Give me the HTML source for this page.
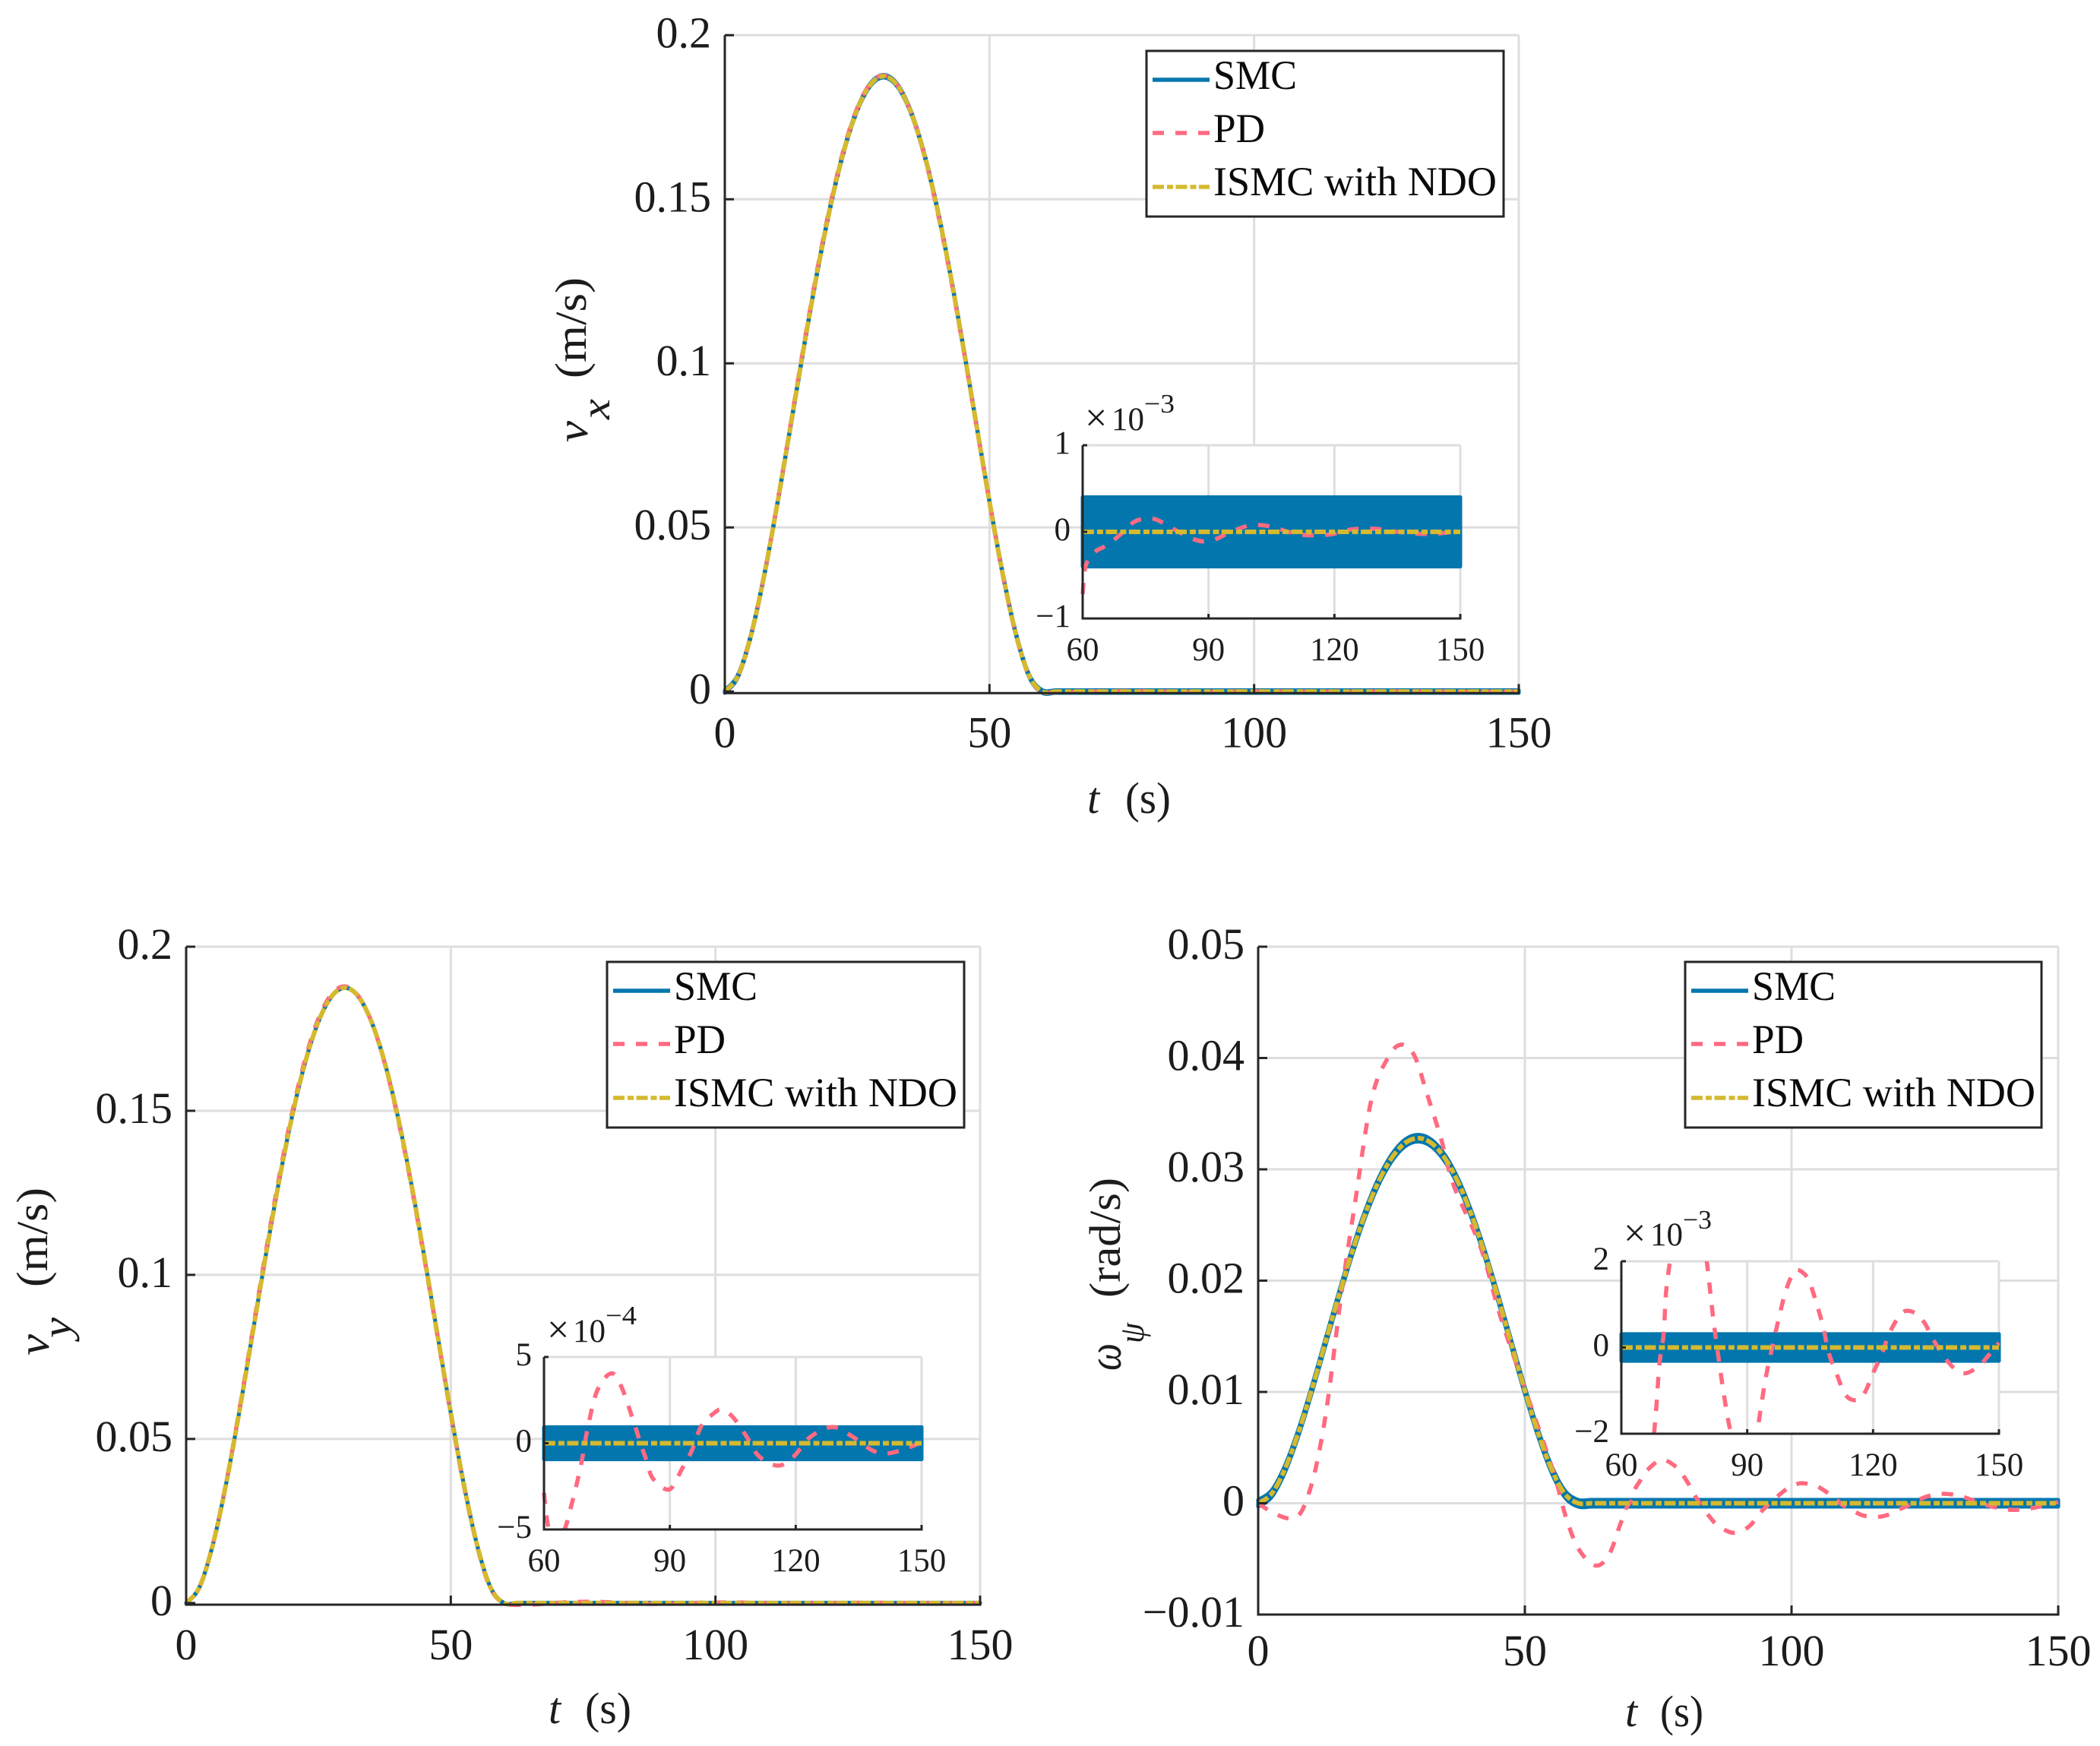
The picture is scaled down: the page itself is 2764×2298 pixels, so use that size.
<!DOCTYPE html>
<html lang="en">
<head>
<meta charset="utf-8">
<title>Velocity tracking comparison</title>
<style>
html,body{margin:0;padding:0;background:#fff}
svg{display:block}
text{font-family:"Liberation Serif",serif;fill:#1c1c1c}
.leg{font-size:54px;fill:#0a0a0a}
.lab{font-size:58px}
.it{font-style:italic}
.inlab{font-size:43px}
.times{font-size:52px}
.sup{font-size:35px}
</style>
</head>
<body>
<svg xmlns="http://www.w3.org/2000/svg" width="2764" height="2298" viewBox="0 0 2764 2298">
<rect width="2764" height="2298" fill="#fff"/>
<defs>
<clipPath id="clip-vx"><rect x="1420" y="586" width="507" height="228"/></clipPath>
<clipPath id="clip-vy"><rect x="711" y="1786" width="507" height="227"/></clipPath>
<clipPath id="clip-wz"><rect x="2129" y="1660" width="507" height="227"/></clipPath>
</defs>

<!-- Top chart: v_x -->
<g id="vx-main"></g>
<g>
<text class="lab it" transform="translate(773,582) rotate(-90)" textLength="28" lengthAdjust="spacingAndGlyphs">v</text>
<text class="lab it" transform="translate(802,552) rotate(-90)" textLength="27" lengthAdjust="spacingAndGlyphs" style="font-size:54px">x</text>
<text class="lab" transform="translate(771,498) rotate(-90)" textLength="133" lengthAdjust="spacingAndGlyphs">(m/s)</text>
</g>
<g>
<text class="lab it" x="1431" y="1070">t</text>
<text class="lab" x="1481" y="1070" textLength="60" lengthAdjust="spacingAndGlyphs">(s)</text>
</g>
<g transform="translate(1509,67)">
<rect width="470" height="218" fill="#fff" stroke="#262626" stroke-width="3"/>
<line x1="8" x2="83" y1="38" y2="38" stroke="#0376ae" stroke-width="5.5"/>
<text class="leg" x="88" y="50" textLength="110" lengthAdjust="spacingAndGlyphs">SMC</text>
<line x1="8" x2="83" y1="108" y2="108" stroke="#ff6a80" stroke-width="5.5" stroke-dasharray="15 15"/>
<text class="leg" x="88" y="120" textLength="68" lengthAdjust="spacingAndGlyphs">PD</text>
<line x1="8" x2="83" y1="179" y2="179" stroke="#d5b92e" stroke-width="5.5" stroke-dasharray="15 4 8 3.5"/>
<text class="leg" x="88" y="190" textLength="373" lengthAdjust="spacingAndGlyphs">ISMC with NDO</text>
</g>
<g id="vx-inset"></g>
<g>
<text class="times" x="1428" y="567">×</text>
<text class="inlab" x="1463" y="566">10</text>
<text class="sup" x="1506" y="543" textLength="40" lengthAdjust="spacingAndGlyphs">−3</text>
</g>

<!-- Bottom left chart: v_y -->
<g id="vy-main"></g>
<g>
<text class="lab it" transform="translate(64,1784) rotate(-90)" textLength="28" lengthAdjust="spacingAndGlyphs">v</text>
<text class="lab it" transform="translate(93,1761) rotate(-90)" textLength="27" lengthAdjust="spacingAndGlyphs" style="font-size:54px">y</text>
<text class="lab" transform="translate(62,1694) rotate(-90)" textLength="131" lengthAdjust="spacingAndGlyphs">(m/s)</text>
</g>
<g>
<text class="lab it" x="722" y="2268">t</text>
<text class="lab" x="770" y="2268" textLength="61" lengthAdjust="spacingAndGlyphs">(s)</text>
</g>
<g transform="translate(799,1266)">
<rect width="470" height="218" fill="#fff" stroke="#262626" stroke-width="3"/>
<line x1="8" x2="83" y1="38" y2="38" stroke="#0376ae" stroke-width="5.5"/>
<text class="leg" x="88" y="50" textLength="110" lengthAdjust="spacingAndGlyphs">SMC</text>
<line x1="8" x2="83" y1="108" y2="108" stroke="#ff6a80" stroke-width="5.5" stroke-dasharray="15 15"/>
<text class="leg" x="88" y="120" textLength="68" lengthAdjust="spacingAndGlyphs">PD</text>
<line x1="8" x2="83" y1="179" y2="179" stroke="#d5b92e" stroke-width="5.5" stroke-dasharray="15 4 8 3.5"/>
<text class="leg" x="88" y="190" textLength="373" lengthAdjust="spacingAndGlyphs">ISMC with NDO</text>
</g>
<g id="vy-inset"></g>
<g>
<text class="times" x="720" y="1767">×</text>
<text class="inlab" x="754" y="1766">10</text>
<text class="sup" x="797" y="1743" textLength="41" lengthAdjust="spacingAndGlyphs">−4</text>
</g>

<!-- Bottom right chart: omega_psi -->
<g id="wz-main"></g>
<g>
<text class="lab it" transform="translate(1475,1804) rotate(-90)" textLength="36" lengthAdjust="spacingAndGlyphs" style="font-size:62px">ω</text>
<text class="lab it" transform="translate(1505,1768) rotate(-90)" textLength="27" lengthAdjust="spacingAndGlyphs" style="font-size:46px">ψ</text>
<text class="lab" transform="translate(1474,1708) rotate(-90)" textLength="158" lengthAdjust="spacingAndGlyphs">(rad/s)</text>
</g>
<g>
<text class="lab it" x="2139" y="2272">t</text>
<text class="lab" x="2185" y="2272" textLength="57" lengthAdjust="spacingAndGlyphs">(s)</text>
</g>
<g transform="translate(2218,1266)">
<rect width="469" height="218" fill="#fff" stroke="#262626" stroke-width="3"/>
<line x1="8" x2="83" y1="38" y2="38" stroke="#0376ae" stroke-width="5.5"/>
<text class="leg" x="88" y="50" textLength="110" lengthAdjust="spacingAndGlyphs">SMC</text>
<line x1="8" x2="83" y1="108" y2="108" stroke="#ff6a80" stroke-width="5.5" stroke-dasharray="15 15"/>
<text class="leg" x="88" y="120" textLength="68" lengthAdjust="spacingAndGlyphs">PD</text>
<line x1="8" x2="83" y1="179" y2="179" stroke="#d5b92e" stroke-width="5.5" stroke-dasharray="15 4 8 3.5"/>
<text class="leg" x="88" y="190" textLength="373" lengthAdjust="spacingAndGlyphs">ISMC with NDO</text>
</g>
<g id="wz-inset"></g>
<g>
<text class="times" x="2137" y="1640">×</text>
<text class="inlab" x="2172" y="1639">10</text>
<text class="sup" x="2215" y="1617" textLength="38" lengthAdjust="spacingAndGlyphs">−3</text>
</g>
</svg>

<script>
// ---------- shared axis data ----------
const mainXTicks = [0, 50, 100, 150];
const mainXLabels = ['0', '50', '100', '150'];
const insetXTicks = [60, 90, 120, 150];
const insetXLabels = ['60', '90', '120', '150'];

const velocityYTicks = [0, 0.05, 0.1, 0.15, 0.2];
const velocityYLabels = ['0', '0.05', '0.1', '0.15', '0.2'];
const omegaYTicks = [-0.01, 0, 0.01, 0.02, 0.03, 0.04, 0.05];
const omegaYLabels = ['−0.01', '0', '0.01', '0.02', '0.03', '0.04', '0.05'];

const vxInsetYTicks = [-1, 0, 1];
const vxInsetYLabels = ['−1', '0', '1'];
const vyInsetYTicks = [-5, 0, 5];
const vyInsetYLabels = ['−5', '0', '5'];
const wzInsetYTicks = [-2, 0, 2];
const wzInsetYLabels = ['−2', '0', '2'];

// ---------- time base of the tracking curves (s) ----------
const trackTimes = [0, 2.5, 5, 7.5, 10, 12.5, 15, 17.5, 20, 22.5, 25, 27.5, 30, 32.5, 35, 37.5, 40, 42.5, 45, 47.5, 50, 52.5, 55, 57.5, 60, 62.5, 65, 70, 90, 110, 130, 150];

// ---------- v_x ----------
const vxSmc = [0, .0048, .0175, .0359, .0579, .0816, .1055, .1281, .1482, .1648, .1772, .1849, .1875, .1849, .1772, .1648, .1482, .1281, .1055, .0816, .0579, .0359, .0175, .0048, 0, 0, 0, 0, 0, 0, 0, 0];
const vxNdo = [0, .0048, .0175, .0359, .0579, .0816, .1055, .1281, .1482, .1648, .1772, .1849, .1875, .1849, .1772, .1648, .1482, .1281, .1055, .0816, .0579, .0359, .0175, .0048, 0, 0, 0, 0, 0, 0, 0, 0];
const vxSmcChatter = [0.00042];
const vxPdHeadTimes = [0, 2.5, 5, 7.5, 10, 12.5, 15, 17.5, 20, 22.5, 25, 27.5, 30, 32.5, 35, 37.5, 40, 42.5, 45, 47.5, 50, 52.5, 55, 57.5];
const vxPdHead = [0, .0047, .0175, .0360, .0583, .0822, .1063, .1290, .1490, .1655, .1778, .1853, .1877, .1850, .1772, .1645, .1475, .1275, .1050, .0812, .0575, .0355, .0172, .0046];
// tail values in units of 1e-3
const vxPdTailTimes = [60, 60.5, 61.4, 63.2, 65, 67.5, 69.7, 71.8, 74, 76.8, 79, 81.8, 84, 86.8, 89, 91.9, 94, 96.9, 99.7, 103, 106.2, 109, 113.3, 119, 122.6, 125.5, 129.8, 134.1, 140.5, 145.6, 150];
const vxPdTail = [-.72, -.44, -.32, -.22, -.175, -.09, 0, .10, .146, .152, .108, .03, -.03, -.09, -.11, -.08, -.03, .03, .073, .076, .044, 0, -.038, -.03, .015, .035, .035, .006, -.023, -.015, .015];
const vxInsetBandTimes = [60, 150];
const vxInsetBandUpper = [.40, .40];
const vxInsetBandLower = [-.40, -.40];
const vxInsetNdoTimes = [60, 150];
const vxInsetNdo = [0, 0];

// ---------- v_y ----------
const vySmc = [0, .0048, .0175, .0359, .0579, .0816, .1055, .1281, .1482, .1648, .1772, .1849, .1875, .1849, .1772, .1648, .1482, .1281, .1055, .0816, .0579, .0359, .0175, .0048, 0, 0, 0, 0, 0, 0, 0, 0];
const vyNdo = [0, .0048, .0175, .0359, .0579, .0816, .1055, .1281, .1482, .1648, .1772, .1849, .1875, .1849, .1772, .1648, .1482, .1281, .1055, .0816, .0579, .0359, .0175, .0048, 0, 0, 0, 0, 0, 0, 0, 0];
const vySmcChatter = [0.0001];
const vyPdHeadTimes = [0, 2.5, 5, 7.5, 10, 12.5, 15, 17.5, 20, 22.5, 25, 27.5, 30, 32.5, 35, 37.5, 40, 42.5, 45, 47.5, 50, 52.5, 55, 57.5];
const vyPdHead = [0, .0047, .0176, .0362, .0585, .0825, .1066, .1293, .1493, .1658, .1781, .1856, .1879, .1851, .1772, .1645, .1476, .1275, .1049, .0811, .0574, .0354, .0171, .0044];
// tail values in units of 1e-4
const vyPdTailTimes = [60, 60.9, 62.5, 64.9, 66.6, 67.8, 69, 70.4, 72.7, 76, 78.4, 81.1, 83, 84.5, 86, 89.9, 92.9, 95.2, 97.5, 100.5, 102.4, 105, 108.2, 111.2, 115.8, 119.6, 123.4, 128.7, 133.3, 138, 141.3, 145.5, 150];
const vyPdTail = [-2.87, -4.7, -5.8, -5, -3.53, -2.36, -1.04, .86, 3.06, 4.05, 3.3, 1.45, 0, -1.04, -2.06, -2.68, -1.48, -.45, 1, 1.74, 1.96, 1.52, .42, -.75, -1.3, -.75, .35, .94, .42, -.38, -.6, -.38, .06];
const vyInsetBandTimes = [60, 150];
const vyInsetBandUpper = [.93, .93];
const vyInsetBandLower = [-.93, -.93];
const vyInsetNdoTimes = [60, 150];
const vyInsetNdo = [0, 0];

// ---------- omega_psi ----------
const wzSmc = [0, .00084, .00306, .00628, .01012, .01428, .01845, .0224, .02592, .02883, .031, .03235, .0328, .03235, .031, .02883, .02592, .0224, .01845, .01428, .01012, .00628, .00306, .00084, 0, 0, 0, 0, 0, 0, 0, 0];
const wzNdo = [0, .00084, .00306, .00628, .01012, .01428, .01845, .0224, .02592, .02883, .031, .03235, .0328, .03235, .031, .02883, .02592, .0224, .01845, .01428, .01012, .00628, .00306, .00084, 0, 0, 0, 0, 0, 0, 0, 0];
const wzSmcChatter = [0.00031];
const wzPdHeadTimes = [0, 2.6, 5.7, 7.9, 9.7, 11.3, 13.1, 15.6, 18.1, 21.2, 24.3, 26.8, 29.3, 31.7, 34.2, 36.7, 41.7, 45.4, 50.3, 55.3, 57.8, 60.2, 63.3, 65.8];
const wzPdHead = [0, -.0008, -.00136, -.0009, .0012, .0043, .0094, .0188, .0268, .0362, .04, .0412, .0402, .0367, .0329, .0285, .023, .0168, .0099, .0029, -.0014, -.0042, -.0056, -.0046];
// tail values in units of 1e-3
const wzPdTailTimes = [67.8, 68.4, 69.1, 70.1, 70.6, 71.5, 73, 75.7, 78.5, 80.35, 81.2, 82, 82.8, 83.9, 85, 86, 87.5, 89, 90.8, 92.3, 93.5, 94.6, 95.7, 97.6, 99.1, 100.6, 102, 104.3, 105.7, 108, 109.4, 111.3, 113.5, 116.1, 118, 120.2, 122, 123.9, 126.1, 127.9, 130.5, 132.4, 134.6, 137.6, 140.2, 142.4, 145.3, 147.9, 150];
const wzPdTail = [-2, -1.3, -.36, .33, 1.22, 1.94, 3, 3.9, 3.2, 2, 1.28, .59, .02, -.74, -1.43, -1.93, -2.4, -2.65, -2.45, -1.97, -1.24, -.61, -.11, .71, 1.28, 1.66, 1.8, 1.63, 1.28, .52, -.11, -.61, -1.11, -1.22, -1.05, -.55, -.17, .33, .71, .85, .77, .55, .14, -.3, -.55, -.59, -.42, -.14, .11];
const wzInsetBandTimes = [60, 150];
const wzInsetBandUpper = [.31, .31];
const wzInsetBandLower = [-.31, -.31];
const wzInsetNdoTimes = [60, 150];
const wzInsetNdo = [0, 0];

// ---------- drawing ----------
const SVG_NS = 'http://www.w3.org/2000/svg';
const BLUE = '#0376ae', PINK = '#ff6a80', GOLD = '#d5b92e', AXIS = '#262626', GRID = '#dedede';

function scale(d0, d1, r0, r1) {
  return function (v) { return r0 + (v - d0) * (r1 - r0) / (d1 - d0); };
}
function curve(pts) {
  let d = '';
  for (let i = 0; i < pts.length - 1; i++) {
    const p0 = pts[Math.max(i - 1, 0)], p1 = pts[i], p2 = pts[i + 1], p3 = pts[Math.min(i + 2, pts.length - 1)];
    const c1x = p1[0] + (p2[0] - p0[0]) / 6, c1y = p1[1] + (p2[1] - p0[1]) / 6;
    const c2x = p2[0] - (p3[0] - p1[0]) / 6, c2y = p2[1] - (p3[1] - p1[1]) / 6;
    d += 'C' + c1x.toFixed(2) + ' ' + c1y.toFixed(2) + ' ' + c2x.toFixed(2) + ' ' + c2y.toFixed(2) + ' ' + p2[0].toFixed(2) + ' ' + p2[1].toFixed(2);
  }
  return d;
}
function linePath(parent, name, pts, stroke, dash, width, clip) {
  const el = document.createElementNS(SVG_NS, 'path');
  el.setAttribute('d', 'M' + pts[0][0].toFixed(2) + ' ' + pts[0][1].toFixed(2) + curve(pts));
  el.setAttribute('fill', 'none');
  el.setAttribute('stroke', stroke);
  el.setAttribute('stroke-width', width);
  if (dash) el.setAttribute('stroke-dasharray', dash);
  if (clip) el.setAttribute('clip-path', 'url(#' + clip + ')');
  
  
  parent.appendChild(el);
}
function ribbon(parent, name, upper, lower) {
  const rev = lower.slice().reverse();
  const el = document.createElementNS(SVG_NS, 'path');
  el.setAttribute('d', 'M' + upper[0][0].toFixed(2) + ' ' + upper[0][1].toFixed(2) + curve(upper) + 'L' + rev[0][0].toFixed(2) + ' ' + rev[0][1].toFixed(2) + curve(rev) + 'Z');
  el.setAttribute('fill', BLUE);
  el.setAttribute('stroke', BLUE);
  el.setAttribute('stroke-width', '5');
  el.setAttribute('stroke-linejoin', 'round');
  
  
  parent.appendChild(el);
}
function rule(parent, name, x1, y1, x2, y2, stroke, width) {
  const el = document.createElementNS(SVG_NS, 'line');
  el.setAttribute('x1', x1); el.setAttribute('y1', y1);
  el.setAttribute('x2', x2); el.setAttribute('y2', y2);
  el.setAttribute('stroke', stroke);
  el.setAttribute('stroke-width', width);
  
  
  parent.appendChild(el);
}
function label(parent, name, str, x, y, size, anchor) {
  const el = document.createElementNS(SVG_NS, 'text');
  el.setAttribute('x', x); el.setAttribute('y', y);
  el.setAttribute('font-size', size);
  el.setAttribute('text-anchor', anchor);
  el.textContent = str;
  
  
  parent.appendChild(el);
}
function zip(ts, vs, f) {
  return ts.map(function (t, i) { return [f.x(t), f.y(vs[i])]; });
}
function frame(g, prefix, f, box, xTicks, yTicks) {
  yTicks.forEach(function (v) {
    if (f.y(v) < box.b - 3) rule(g, prefix + '-y-gridline', box.l, f.y(v), box.r, f.y(v), GRID, 3);
  });
  xTicks.forEach(function (v) {
    if (f.x(v) > box.l + 3) rule(g, prefix + '-x-gridline', f.x(v), box.t, f.x(v), box.b, GRID, 3);
  });
}
function axes(g, prefix, f, box, xTicks, xLabels, yTicks, yLabels, opt) {
  rule(g, prefix + '-x-axis', box.l - 1.5, box.b, box.r + 1.5, box.b, AXIS, 3);
  rule(g, prefix + '-y-axis', box.l, box.t, box.l, box.b, AXIS, 3);
  xTicks.forEach(function (v, i) {
    rule(g, prefix + '-x-tick', f.x(v), box.b, f.x(v), box.b - opt.tick, AXIS, 3);
    label(g, prefix + '-x-tick-label', xLabels[i], f.x(v), box.b + opt.xBase, opt.size, 'middle');
  });
  yTicks.forEach(function (v, i) {
    rule(g, prefix + '-y-tick', box.l, f.y(v), box.l + opt.tick, f.y(v), AXIS, 3);
    label(g, prefix + '-y-tick-label', yLabels[i], box.l + opt.yRight, f.y(v) + opt.yBase, opt.size, 'end');
  });
}
function drawMain(id, prefix, box, yDomain, yTicks, yLabels, smc, chatter, ndo, pdT, pdV, tailT, tailV, tailUnit, xBase) {
  const g = document.getElementById(id);
  const f = { x: scale(0, 150, box.l, box.r), y: scale(yDomain[0], yDomain[1], box.b, box.t) };
  const opt = { tick: 12, size: 58, xBase: xBase, yRight: -18, yBase: 16 };
  frame(g, prefix, f, box, mainXTicks, yTicks);
  const up = smc.map(function (v) { return v + chatter[0]; });
  const dn = smc.map(function (v) { return v - chatter[0]; });
  ribbon(g, prefix + '-smc-series', zip(trackTimes, up, f), zip(trackTimes, dn, f));
  const pdTimes = pdT.concat(tailT);
  const pdVals = pdV.concat(tailV.map(function (v) { return v * tailUnit; }));
  linePath(g, prefix + '-pd-series', zip(pdTimes, pdVals, f), PINK, '15 15', 5.5);
  linePath(g, prefix + '-ismc-ndo-series', zip(trackTimes, ndo, f), GOLD, '15 4 8 3.5', 6);
  axes(g, prefix, f, box, mainXTicks, mainXLabels, yTicks, yLabels, opt);
}
function drawInset(id, prefix, box, yDomain, yTicks, yLabels, bandT, bandU, bandL, tailT, tailV, ndoT, ndoV, clip) {
  const g = document.getElementById(id);
  const f = { x: scale(60, 150, box.l, box.r), y: scale(yDomain[0], yDomain[1], box.b, box.t) };
  const opt = { tick: 6, size: 43, xBase: 55, yRight: -16, yBase: 11 };
  const bg = document.createElementNS(SVG_NS, 'rect');
  bg.setAttribute('x', box.l); bg.setAttribute('y', box.t);
  bg.setAttribute('width', box.r - box.l); bg.setAttribute('height', box.b - box.t);
  bg.setAttribute('fill', '#fff');
  
  
  g.appendChild(bg);
  rule(g, prefix + '-top-edge', box.l, box.t, box.r, box.t, GRID, 3);
  frame(g, prefix, f, box, insetXTicks, yTicks);
  ribbon(g, prefix + '-smc-band', zip(bandT, bandU, f), zip(bandT, bandL, f));
  linePath(g, prefix + '-pd-series', zip(tailT, tailV, f), PINK, '15 15', 5.5, clip);
  linePath(g, prefix + '-ismc-ndo-series', zip(ndoT, ndoV, f), GOLD, '15 4 8 3.5', 6);
  axes(g, prefix, f, box, insetXTicks, insetXLabels, yTicks, yLabels, opt);
}

drawMain('vx-main', 'vx', { l: 954, r: 1999, t: 46.3, b: 912.3 }, [-0.0005, 0.2], velocityYTicks, velocityYLabels, vxSmc, vxSmcChatter, vxNdo, vxPdHeadTimes, vxPdHead, vxPdTailTimes, vxPdTail, 1e-3, 71);
drawMain('vy-main', 'vy', { l: 245, r: 1290, t: 1246, b: 2112 }, [-0.0005, 0.2], velocityYTicks, velocityYLabels, vySmc, vySmcChatter, vyNdo, vyPdHeadTimes, vyPdHead, vyPdTailTimes, vyPdTail, 1e-4, 72);
drawMain('wz-main', 'omega', { l: 1656, r: 2709, t: 1246, b: 2125 }, [-0.01, 0.05], omegaYTicks, omegaYLabels, wzSmc, wzSmcChatter, wzNdo, wzPdHeadTimes, wzPdHead, wzPdTailTimes, wzPdTail, 1e-3, 67);

drawInset('vx-inset', 'vx-inset', { l: 1425, r: 1922, t: 586, b: 814 }, [-1, 1], vxInsetYTicks, vxInsetYLabels, vxInsetBandTimes, vxInsetBandUpper, vxInsetBandLower, vxPdTailTimes, vxPdTail, vxInsetNdoTimes, vxInsetNdo, 'clip-vx');
drawInset('vy-inset', 'vy-inset', { l: 716, r: 1213, t: 1786, b: 2013 }, [-5, 5], vyInsetYTicks, vyInsetYLabels, vyInsetBandTimes, vyInsetBandUpper, vyInsetBandLower, vyPdTailTimes, vyPdTail, vyInsetNdoTimes, vyInsetNdo, 'clip-vy');
drawInset('wz-inset', 'omega-inset', { l: 2134, r: 2631, t: 1660, b: 1887 }, [-2, 2], wzInsetYTicks, wzInsetYLabels, wzInsetBandTimes, wzInsetBandUpper, wzInsetBandLower, wzPdTailTimes, wzPdTail, wzInsetNdoTimes, wzInsetNdo, 'clip-wz');
</script>
</body>
</html>
